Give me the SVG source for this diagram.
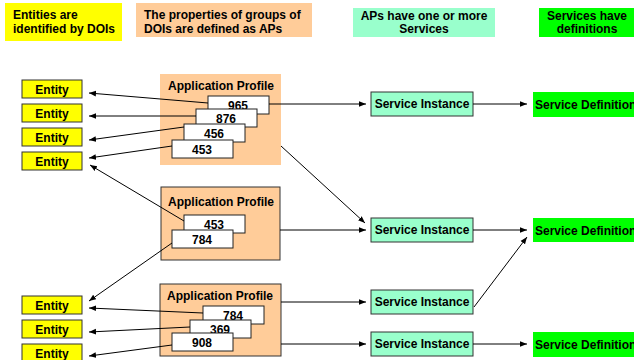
<svg xmlns="http://www.w3.org/2000/svg" width="634" height="360" viewBox="0 0 634 360">
<defs>
<marker id="ah" viewBox="0 0 10 10" refX="10" refY="5" markerWidth="7" markerHeight="7" markerUnits="userSpaceOnUse" orient="auto">
<path d="M0,1 L10,5 L0,9 Z" fill="#000"/>
</marker>
</defs>
<style>
text{font-family:"Liberation Sans",Arial,sans-serif;font-weight:bold;font-size:12px;fill:#000}
.c{text-anchor:middle}
.ent{fill:#ffff00;stroke:#333;stroke-width:1}
.ap{fill:#ffcc99}
.apb{fill:#ffcc99;stroke:#333;stroke-width:1}
.num{fill:#fff;stroke:#222;stroke-width:1}
.si{fill:#99ffcc;stroke:#333;stroke-width:1}
.sd{fill:#00ff00}
.ln{stroke:#000;stroke-width:1;fill:none;marker-end:url(#ah)}
</style>
<rect width="634" height="360" fill="#fff"/>
<g id="hdr1"><rect x="5" y="3" width="117" height="38" fill="#ffff00"/><text x="13" y="19">Entities are</text><text x="13" y="33">identified by DOIs</text></g>
<g id="hdr2"><rect x="136" y="3" width="176" height="34" fill="#ffcc99"/><text x="144" y="19">The properties of groups of</text><text x="144" y="33">DOIs are defined as APs</text></g>
<g id="hdr3"><rect x="353" y="8" width="142" height="29" fill="#99ffcc"/><text class="c" x="424" y="20">APs have one or more</text><text class="c" x="424" y="33">Services</text></g>
<g id="hdr4"><rect x="539" y="8" width="95" height="29" fill="#00ff00"/><text class="c" x="587" y="20">Services have</text><text class="c" x="587" y="33">definitions</text></g>

<g id="e1"><rect class="ent" x="22" y="80" width="60" height="18"/><text class="c" x="52" y="94">Entity</text></g>
<g id="e2"><rect class="ent" x="22" y="104" width="60" height="18"/><text class="c" x="52" y="118">Entity</text></g>
<g id="e3"><rect class="ent" x="22" y="128" width="60" height="18"/><text class="c" x="52" y="142">Entity</text></g>
<g id="e4"><rect class="ent" x="22" y="152" width="60" height="18"/><text class="c" x="52" y="166">Entity</text></g>
<g id="e5"><rect class="ent" x="22" y="296" width="60" height="18"/><text class="c" x="52" y="310">Entity</text></g>
<g id="e6"><rect class="ent" x="22" y="320" width="60" height="18"/><text class="c" x="52" y="334">Entity</text></g>
<g id="e7"><rect class="ent" x="22" y="344" width="60" height="18"/><text class="c" x="52" y="358">Entity</text></g>

<g id="ap1"><rect class="ap" x="160" y="74" width="121" height="91"/><text x="168" y="90">Application Profile</text>
<rect class="num" x="208" y="96" width="61" height="18"/><text class="c" x="238" y="110">965</text>
<rect class="num" x="196" y="109" width="61" height="18"/><text class="c" x="226" y="123">876</text>
<rect class="num" x="184" y="124" width="61" height="18"/><text class="c" x="214" y="138">456</text>
<rect class="num" x="172" y="140" width="61" height="18"/><text class="c" x="202" y="154">453</text></g>

<g id="ap2"><rect class="apb" x="161" y="187" width="119" height="73"/><text x="168" y="206">Application Profile</text>
<rect class="num" x="184" y="215" width="61" height="18"/><text class="c" x="214" y="229">453</text>
<rect class="num" x="172" y="230" width="61" height="18"/><text class="c" x="202" y="244">784</text></g>

<g id="ap3"><rect class="apb" x="160" y="284" width="121" height="72"/><text x="167" y="300">Application Profile</text>
<rect class="num" x="203" y="306" width="61" height="18"/><text class="c" x="233" y="320">784</text>
<rect class="num" x="190" y="320" width="61" height="18"/><text class="c" x="220" y="334">369</text>
<rect class="num" x="172" y="333" width="61" height="18"/><text class="c" x="202" y="347">908</text></g>

<g id="si1"><rect class="si" x="371" y="92" width="102" height="24"/><text class="c" x="422" y="108">Service Instance</text></g>
<g id="si2"><rect class="si" x="371" y="218" width="102" height="24"/><text class="c" x="422" y="234">Service Instance</text></g>
<g id="si3"><rect class="si" x="371" y="290" width="102" height="24"/><text class="c" x="422" y="306">Service Instance</text></g>
<g id="si4"><rect class="si" x="371" y="332" width="102" height="24"/><text class="c" x="422" y="348">Service Instance</text></g>

<g id="sd1"><rect class="sd" x="533" y="92" width="101" height="25"/><text x="535" y="109">Service Definition</text></g>
<g id="sd2"><rect class="sd" x="533" y="218" width="101" height="24"/><text x="535" y="235">Service Definition</text></g>
<g id="sd3"><rect class="sd" x="533" y="332" width="101" height="25"/><text x="535" y="349">Service Definition</text></g>

<g id="connectors">
<line class="ln" x1="208" y1="103" x2="89" y2="93"/>
<line class="ln" x1="196" y1="116" x2="89" y2="116"/>
<line class="ln" x1="184" y1="127" x2="89" y2="140"/>
<line class="ln" x1="172" y1="146" x2="89" y2="158"/>
<line class="ln" x1="184" y1="221" x2="90" y2="165"/>
<line class="ln" x1="172" y1="243" x2="89" y2="301"/>
<line class="ln" x1="203" y1="313" x2="89" y2="308"/>
<line class="ln" x1="190" y1="327" x2="89" y2="332"/>
<line class="ln" x1="172" y1="345" x2="89" y2="356"/>
<line class="ln" x1="269" y1="104" x2="366" y2="104"/>
<line class="ln" x1="473" y1="104" x2="527" y2="104"/>
<line class="ln" x1="281" y1="146" x2="365" y2="223"/>
<line class="ln" x1="280" y1="230" x2="366" y2="230"/>
<line class="ln" x1="473" y1="230" x2="527" y2="230"/>
<line class="ln" x1="474" y1="307" x2="527" y2="237"/>
<line class="ln" x1="281" y1="302" x2="366" y2="302"/>
<line class="ln" x1="473" y1="344" x2="527" y2="344"/>
<line class="ln" x1="281" y1="344" x2="366" y2="344"/>
</g>
</svg>
